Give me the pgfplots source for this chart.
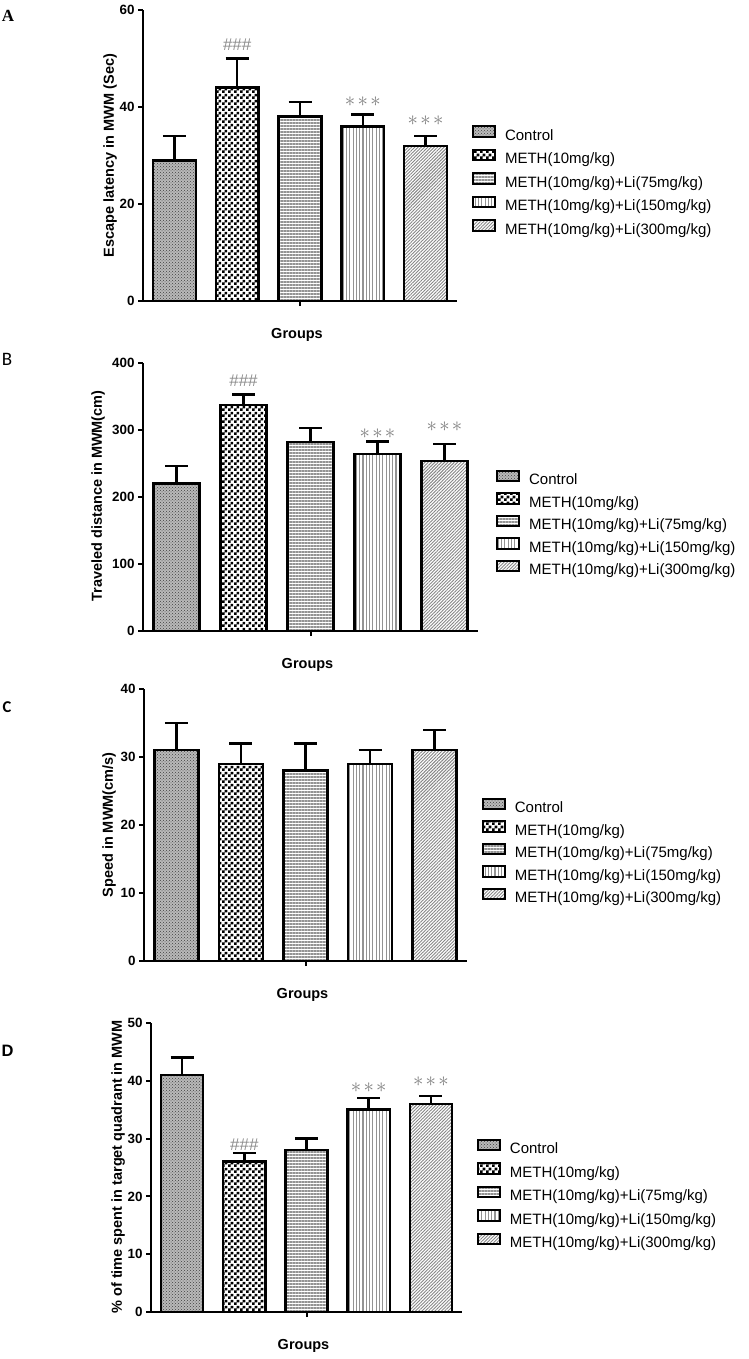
\documentclass[border=0pt]{standalone}
\usepackage{pgfplots}
\pgfplotsset{compat=1.18}
\usetikzlibrary{patterns,patterns.meta}
\usepackage{fontspec}
\setmainfont{Liberation Sans}
\newfontfamily\serifA{Liberation Serif}
\newfontfamily\carlito{Carlito}

\pgfdeclarepatternformonly{mychecker}{\pgfpointorigin}{\pgfqpoint{6pt}{6pt}}{\pgfqpoint{6pt}{6pt}}{%
 \pgfpathrectangle{\pgfpointorigin}{\pgfqpoint{3pt}{3pt}}%
 \pgfpathrectangle{\pgfqpoint{3pt}{3pt}}{\pgfqpoint{3pt}{3pt}}%
 \pgfusepath{fill}}

\tikzset{
 pC/.style={fill=gray!55, postaction={pattern=crosshatch dots, pattern color=black!75}},
 pM/.style={pattern=mychecker, pattern color=black},
 p75/.style={pattern={Lines[angle=0,distance=3pt,line width=1.1pt]}, pattern color=gray!85},
 p150/.style={pattern={Lines[angle=90,distance=3.3pt,line width=1.1pt]}, pattern color=gray!85},
 p300/.style={pattern={Lines[angle=45,distance=2.3pt,line width=0.9pt]}, pattern color=gray!95},
}

\pgfplotsset{
 myaxis/.style={
  scale only axis, axis lines=left, axis line style={-, line width=2pt},
  xmin=-0.5, xmax=4.5, ymin=0,
  xtick={2}, xticklabels={}, tick align=outside, major tick length=5pt,
  tick style={line width=2pt, black},
  ticklabel style={font=\fontsize{13.4}{14}\selectfont\bfseries},
  /pgf/number format/assume math mode=true,
  label style={font=\fontsize{14.5}{16}\selectfont\bfseries},
  xlabel={Groups},
  xlabel style={at={(axis description cs:0.5,0)}, anchor=center, yshift=-34pt, xshift=-3pt},
  legend style={draw=none, fill=none, inner sep=0pt, outer sep=0pt, anchor=north west, column sep=9pt, font=\fontsize{15}{18}\selectfont, nodes={inner sep=0pt, text height=11pt, text depth=4pt}},
  legend cell align=left,
  error bars/y dir=plus, error bars/y explicit,
  error bars/error bar style={line width=2.5pt, black, solid},
  error bars/error mark options={rotate=90, mark size=11.5pt, line width=2.5pt, black, solid},
  clip=false,
 },
 mybar/.style={ybar, bar shift=0pt, bar width=0.68, draw=black, line width=2.5pt,
  legend image code/.code={\draw[##1, line width=2pt] (0pt,0pt) rectangle (22pt,10.5pt);}},
}

\newcommand{\hashes}{\textcolor{gray!90}{\fontsize{17}{17}\selectfont\#\#\#}}
\newcommand{\stars}{\textcolor{gray}{\fontsize{22}{22}\selectfont${\ast}\mkern2mu{\ast}\mkern2mu{\ast}$}}

\begin{document}
\begin{tikzpicture}
\useasboundingbox (0pt,0pt) rectangle (748pt,-1359pt);

% Panel labels
\node[font=\serifA\bfseries\fontsize{17}{17}\selectfont] at (8pt,-15.5pt) {A};
\node[font=\carlito\fontsize{19}{19}\selectfont] at (7pt,-359pt) {B};
\node[font=\carlito\bfseries\fontsize{16.5}{16.5}\selectfont] at (7pt,-707pt) {C};
\node[font=\bfseries\fontsize{16.5}{16.5}\selectfont] at (7.5pt,-1051pt) {D};

% ---------- A ----------
\begin{axis}[myaxis, at={(143pt,-301pt)}, anchor=south west, width=314pt, height=291pt,
  ymax=60, ytick={0,20,40,60},
  ylabel={Escape latency in MWM (Sec)},
  ylabel style={at={(axis description cs:-0.105,0.5)}, anchor=center},
  legend style={at={(axis description cs:1.048,0.604)}, row sep=4.5pt}]
\addplot[mybar, pC] coordinates {(0,29) +- (0,5)};
\addplot[mybar, pM] coordinates {(1,44) +- (0,6)};
\addplot[mybar, p75] coordinates {(2,38) +- (0,3)};
\addplot[mybar, p150] coordinates {(3,36) +- (0,2.5)};
\addplot[mybar, p300] coordinates {(4,32) +- (0,2)};
\legend{Control, METH(10mg/kg), METH(10mg/kg)+Li(75mg/kg), METH(10mg/kg)+Li(150mg/kg), METH(10mg/kg)+Li(300mg/kg)}
\node at (axis cs:1,52.8) {\hashes};
\node at (axis cs:3,41.2) {\stars};
\node at (axis cs:4,37.2) {\stars};
\end{axis}

% ---------- B ----------
\begin{axis}[myaxis, at={(143pt,-631pt)}, anchor=south west, width=335pt, height=268pt,
  ymax=400, ytick={0,100,200,300,400},
  ylabel={Traveled distance in MWM(cm)},
  ylabel style={at={(axis description cs:-0.134,0.504)}, anchor=center},
  legend style={at={(axis description cs:1.054,0.601)}, row sep=3.5pt}]
\addplot[mybar, pC] coordinates {(0,220) +- (0,26)};
\addplot[mybar, pM] coordinates {(1,337) +- (0,16)};
\addplot[mybar, p75] coordinates {(2,282) +- (0,21)};
\addplot[mybar, p150] coordinates {(3,264) +- (0,18.5)};
\addplot[mybar, p300] coordinates {(4,254) +- (0,25)};
\legend{Control, METH(10mg/kg), METH(10mg/kg)+Li(75mg/kg), METH(10mg/kg)+Li(150mg/kg), METH(10mg/kg)+Li(300mg/kg)}
\node at (axis cs:1,373) {\hashes};
\node at (axis cs:3,295) {\stars};
\node at (axis cs:4,305) {\stars};
\end{axis}

% ---------- C ----------
\begin{axis}[myaxis, at={(144pt,-961pt)}, anchor=south west, width=323pt, height=272pt,
  ymax=40, ytick={0,10,20,30,40},
  ylabel={Speed in MWM(cm/s)},
  ylabel style={at={(axis description cs:-0.108,0.5)}, anchor=center},
  legend style={at={(axis description cs:1.046,0.600)}, row sep=3.5pt}]
\addplot[mybar, pC] coordinates {(0,31) +- (0,4)};
\addplot[mybar, pM] coordinates {(1,29) +- (0,3)};
\addplot[mybar, p75] coordinates {(2,28) +- (0,4)};
\addplot[mybar, p150] coordinates {(3,29) +- (0,2)};
\addplot[mybar, p300] coordinates {(4,31) +- (0,3)};
\legend{Control, METH(10mg/kg), METH(10mg/kg)+Li(75mg/kg), METH(10mg/kg)+Li(150mg/kg), METH(10mg/kg)+Li(300mg/kg)}
\end{axis}

% ---------- D ----------
\begin{axis}[myaxis, at={(151pt,-1312pt)}, anchor=south west, width=311pt, height=289pt,
  ymax=50, ytick={0,10,20,30,40,50},
  ylabel={\% of time spent in target quadrant in MWM},
  ylabel style={at={(axis description cs:-0.106,0.502)}, anchor=center},
  legend style={at={(axis description cs:1.048,0.600)}, row sep=4.5pt}]
\addplot[mybar, pC] coordinates {(0,41) +- (0,3)};
\addplot[mybar, pM] coordinates {(1,26) +- (0,1.5)};
\addplot[mybar, p75] coordinates {(2,28) +- (0,2)};
\addplot[mybar, p150] coordinates {(3,35) +- (0,2)};
\addplot[mybar, p300] coordinates {(4,36) +- (0,1.4)};
\legend{Control, METH(10mg/kg), METH(10mg/kg)+Li(75mg/kg), METH(10mg/kg)+Li(150mg/kg), METH(10mg/kg)+Li(300mg/kg)}
\node at (axis cs:1,28.9) {\hashes};
\node at (axis cs:3,38.9) {\stars};
\node at (axis cs:4,39.8) {\stars};
\end{axis}
\end{tikzpicture}
\end{document}
